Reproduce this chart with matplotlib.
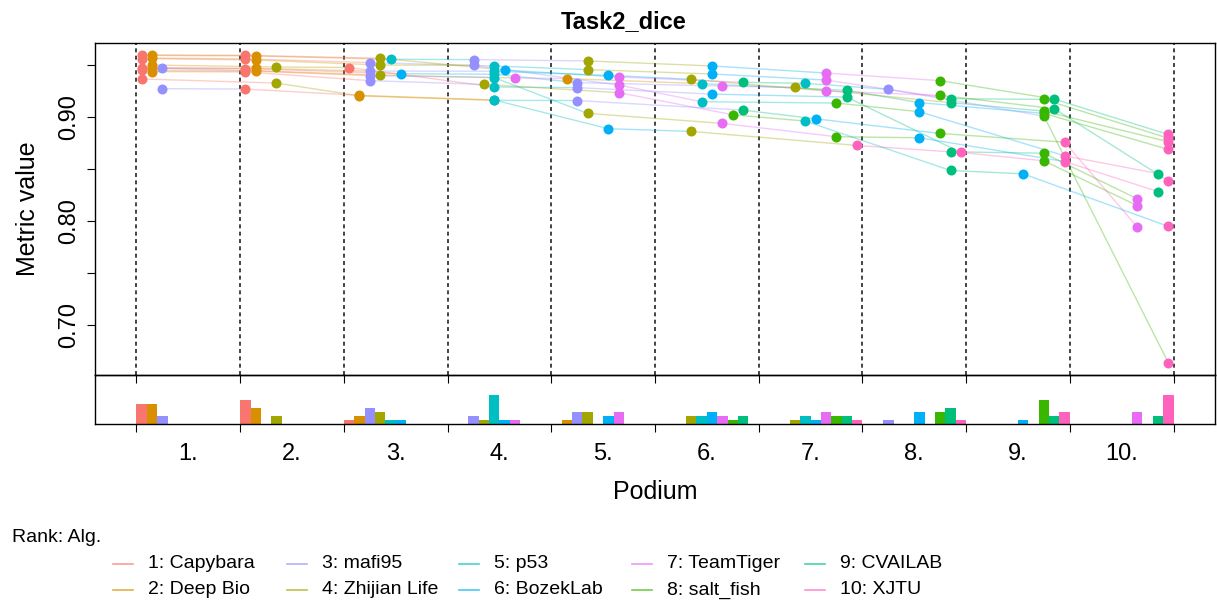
import numpy as np
import matplotlib
matplotlib.use("Agg")
import matplotlib.pyplot as plt
from matplotlib.lines import Line2D

plt.rcParams["font.family"] = ["Liberation Sans", "DejaVu Sans"]

algorithms = ["Capybara", "Deep Bio", "mafi95", "Zhijian Life", "p53",
              "BozekLab", "TeamTiger", "salt_fish", "CVAILAB", "XJTU"]
colors = ["#F8766D", "#D89000", "#9590FF", "#A3A500", "#00BFC4",
          "#00B0F6", "#E76BF3", "#39B600", "#00BF7D", "#FF62BC"]

# dice per test case (12 cases), one list per algorithm
capybara  = [0.9589, 0.9555, 0.9462, 0.9445, 0.9589, 0.9471, 0.9362, 0.9265, 0.9472, 0.9430, 0.9558, 0.9445]
deep_bio  = [0.9583, 0.9562, 0.9464, 0.9366, 0.9592, 0.9464, 0.9200, 0.9205, 0.9496, 0.9433, 0.9544, 0.9438]
mafi95    = [0.9548, 0.9519, 0.9327, 0.9464, 0.9263, 0.9438, 0.9155, 0.9269, 0.9279, 0.9346, 0.9493, 0.9394]
zhijian   = [0.9535, 0.9452, 0.9282, 0.9400, 0.9561, 0.9359, 0.9323, 0.8859, 0.9477, 0.9310, 0.9496, 0.9032]
p53       = [0.9551, 0.9487, 0.9407, 0.9317, 0.9320, 0.9436, 0.9157, 0.9160, 0.9285, 0.8958, 0.9144, 0.9375]
bozeklab  = [0.9487, 0.9410, 0.9413, 0.9135, 0.9448, 0.9397, 0.8980, 0.8885, 0.9217, 0.8452, 0.9048, 0.8798]
teamtiger = [0.9419, 0.9352, 0.9294, 0.9372, 0.9381, 0.9246, 0.7942, 0.8212, 0.8147, 0.9231, 0.9304, 0.8936]
salt_fish = [0.9346, 0.9166, 0.9054, 0.9032, 0.9006, 0.9205, 0.8839, 0.8650, 0.8577, 0.9019, 0.9131, 0.8808]
cvailab   = [0.9169, 0.9173, 0.9135, 0.9253, 0.9330, 0.9077, 0.9063, 0.8663, 0.9188, 0.8484, 0.8455, 0.8282]
xjtu      = [0.8830, 0.8794, 0.8760, 0.8686, 0.6640, 0.8385, 0.8756, 0.8724, 0.8657, 0.7948, 0.8625, 0.8570]

podium_labels = ["1.", "2.", "3.", "4.", "5.", "6.", "7.", "8.", "9.", "10."]

dice = np.array([capybara, deep_bio, mafi95, zhijian, p53,
                 bozeklab, teamtiger, salt_fish, cvailab, xjtu]).T
n_cases, n_algs = dice.shape

# podium place of every algorithm in every case (0 = best dice)
order = np.argsort(-dice, axis=1)
ranks = np.argsort(order, axis=1)
xpos = ranks + (np.arange(n_algs) + 0.5) / n_algs

W, H = 1217, 605
fig = plt.figure(figsize=(W / 100, H / 100), dpi=100)


def box(left, top, right, bottom):
    return [left / W, 1 - bottom / H, (right - left) / W, (bottom - top) / H]


ax = fig.add_axes(box(95, 42.7, 1215, 375))
bx = fig.add_axes(box(95, 375, 1215, 424))
bx.patch.set_visible(False)

# lines linking the podium places of one case
for i in range(n_cases):
    for r in range(n_algs - 1):
        a, b = order[i, r], order[i, r + 1]
        ax.plot([xpos[i, a], xpos[i, b]], [dice[i, a], dice[i, b]],
                color=colors[a], alpha=0.35, lw=1.0, zorder=2)

for j in range(n_algs):
    ax.scatter(xpos[:, j], dice[:, j], s=52, color=colors[j],
               linewidths=0, zorder=3)

for k in range(n_algs + 1):
    ax.axvline(k, color="#111111", lw=1.1, ls=(0, (2.6, 2.2)), zorder=1)

lo, hi = dice.min(), dice.max()
pad = 0.04 * (hi - lo)
ax.set_xlim(-0.4, n_algs + 0.4)
ax.set_ylim(lo - pad, hi + pad)
ax.set_xticks(range(n_algs + 1))
ax.tick_params(axis="x", labelbottom=False, direction="out", length=6, width=0.8)
ax.set_yticks([0.70, 0.75, 0.80, 0.85, 0.90, 0.95])
ax.set_yticklabels(["0.70", "", "0.80", "", "0.90", ""])
ax.tick_params(axis="y", direction="out", length=6, width=0.8, labelsize=17, pad=5)
for lab in ax.get_yticklabels():
    lab.set_rotation(90)
    lab.set_va("center")
for s in ax.spines.values():
    s.set_linewidth(1.0)

# how often each algorithm reached each podium place
counts = np.zeros((n_algs, n_algs))
for i in range(n_cases):
    for j in range(n_algs):
        counts[ranks[i, j], j] += 1

for j in range(n_algs):
    bx.bar(np.arange(n_algs) + j / n_algs, counts[:, j], width=1 / n_algs,
           align="edge", color=colors[j], linewidth=0)

bx.set_xlim(-0.4, n_algs + 0.4)
bx.set_ylim(0, n_cases)
bx.set_yticks([])
bx.set_xticks(range(n_algs + 1))
bx.set_xticklabels([])
bx.set_xticks(np.arange(n_algs) + 0.5, minor=True)
bx.set_xticklabels(podium_labels, minor=True)
bx.tick_params(axis="x", which="major", direction="out", length=6, width=0.8)
bx.tick_params(axis="x", which="minor", length=0, labelsize=17, pad=14)
for s in bx.spines.values():
    s.set_linewidth(1.0)

fig.text(624 / W, 1 - 22 / H, "Task2_dice", ha="center", va="center",
         fontsize=17, fontweight="bold")
fig.text(28 / W, 1 - 209 / H, "Metric value", ha="center", va="center",
         rotation=90, fontsize=18)
fig.text(655 / W, 1 - 492 / H, "Podium", ha="center", va="center", fontsize=18)

# legend: five columns of two entries
fig.text(12 / W, 1 - 537 / H, "Rank: Alg.", ha="left", va="center", fontsize=14)
line_x = [113, 287, 459, 632, 805]
row_y = [564, 590]
for j, name in enumerate(algorithms):
    col, row = j // 2, j % 2
    y = 1 - row_y[row] / H
    x0 = line_x[col]
    fig.add_artist(Line2D([x0 / W, (x0 + 20) / W], [y, y], color=colors[j],
                          alpha=0.7, lw=1.2))
    fig.text((x0 + 35) / W, y, f"{j + 1}: {name}", ha="left", va="center",
             fontsize=14)

fig.savefig("out.png", dpi=100)
